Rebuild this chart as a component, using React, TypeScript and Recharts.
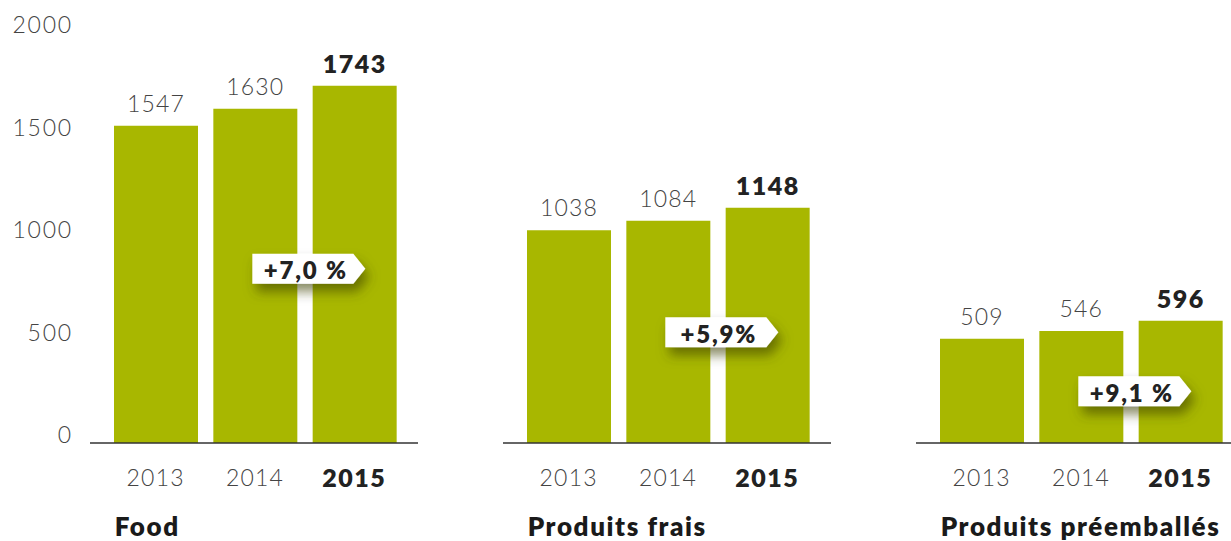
import { BarChart, Bar, XAxis, YAxis, LabelList, ReferenceDot } from "recharts";

const years = ["2013", "2014", "2015"];
const groupNames = ["Food", "Produits frais", "Produits préemballés"];
const foodValues = [1547, 1630, 1743];
const fraisValues = [1038, 1084, 1148];
const preemballesValues = [509, 546, 596];
const growthLabels = ["+7,0 %", "+5,9%", "+9,1 %"];
// height (in chart units) where each growth badge sits
const badgeLevels = [850, 540, 252];
const yTicks = [0, 500, 1000, 1500, 2000];

const groupValues = [foodValues, fraisValues, preemballesValues];

const GREEN = "#a8b700";
const BAR = 84;
const FONT = "Lato, 'Open Sans', sans-serif";

const lightText = { fill: "#444", fontSize: 23, fontWeight: 300, letterSpacing: 1.2, fontFamily: FONT };
const boldText = { fill: "#222", fontSize: 25, fontWeight: 800, letterSpacing: 1.5, fontFamily: FONT };

const YTick = ({ x, y, payload }: any) => (
  <text
    x={x + 1}
    y={y}
    dy={-9}
    textAnchor="end"
    dominantBaseline="central"
    {...lightText}
    letterSpacing={1.8}
  >
    {payload.value}
  </text>
);

const makeXTick = (group: string) => ({ x, y, payload, index }: any) => (
  <g>
    <text
      x={x}
      y={y + 34}
      textAnchor="middle"
      dominantBaseline="central"
      {...(index === 2 ? boldText : lightText)}
    >
      {payload.value}
    </text>
    {index === 0 && (
      <text
        x={x - BAR / 2 + 1}
        y={y + 83}
        textAnchor="start"
        dominantBaseline="central"
        fill="#1a1a1a"
        fontSize={26}
        fontWeight={800}
        letterSpacing={1.6}
        fontFamily={FONT}
      >
        {group}
      </text>
    )}
  </g>
);

const ValueLabel = ({ x, y, width, value, index }: any) => (
  <text
    x={x + width / 2}
    y={y - 23}
    textAnchor="middle"
    dominantBaseline="central"
    {...(index === 2 ? boldText : lightText)}
  >
    {value}
  </text>
);

const makeBadge = (label: string, id: number) => ({ cx, cy }: any) => {
  const L = cx - 102;
  const R = cx - 1;
  const T = cy - 15;
  const B = cy + 15;
  const tip = cx + 11;
  return (
    <g>
      <defs>
        <filter id={`badgeShadow${id}`} x="-30%" y="-60%" width="170%" height="260%">
          <feDropShadow dx="4" dy="8" stdDeviation="6" floodColor="#3a3f00" floodOpacity="0.6" />
        </filter>
      </defs>
      <polygon
        points={`${L},${T} ${R},${T} ${tip},${cy} ${R},${B} ${L},${B}`}
        fill="#fff"
        filter={`url(#badgeShadow${id})`}
      />
      <text
        x={(L + R) / 2 + 3}
        y={cy + 1}
        textAnchor="middle"
        dominantBaseline="central"
        fill="#222"
        fontSize={24}
        fontWeight={800}
        letterSpacing={1.8}
        fontFamily={FONT}
      >
        {label}
      </text>
    </g>
  );
};

const GroupChart = ({ index }: { index: number }) => {
  const data = years.map((year, i) => ({ year, value: groupValues[index][i] }));
  const first = index === 0;
  return (
    <BarChart
      width={430}
      height={541}
      data={data}
      margin={{ top: 33, right: 12, bottom: 0, left: first ? 0 : 90 }}
    >
      <XAxis
        dataKey="year"
        height={98}
        interval={0}
        tickSize={0}
        tickMargin={0}
        tickLine={false}
        padding={{ left: 16, right: 14 }}
        axisLine={{ stroke: "#333", strokeWidth: 1.5 }}
        tick={makeXTick(groupNames[index])}
      />
      <YAxis
        hide={!first}
        width={90}
        domain={[0, 2000]}
        ticks={yTicks}
        axisLine={false}
        tickLine={false}
        tickSize={0}
        tickMargin={18}
        tick={<YTick />}
      />
      <Bar dataKey="value" fill={GREEN} barSize={BAR} isAnimationActive={false}>
        <LabelList dataKey="value" content={<ValueLabel />} />
      </Bar>
      <ReferenceDot
        x="2015"
        y={badgeLevels[index]}
        r={0}
        shape={makeBadge(growthLabels[index], index)}
      />
    </BarChart>
  );
};

export default function App() {
  return (
    <div
      style={{
        position: "fixed",
        top: 0,
        left: 0,
        width: 1231,
        height: 541,
        overflow: "hidden",
        background: "#fff",
      }}
    >
      {[0, 1, 2].map((i) => (
        <div key={i} style={{ position: "absolute", top: 0, left: i * 413 }}>
          <GroupChart index={i} />
        </div>
      ))}
    </div>
  );
}
